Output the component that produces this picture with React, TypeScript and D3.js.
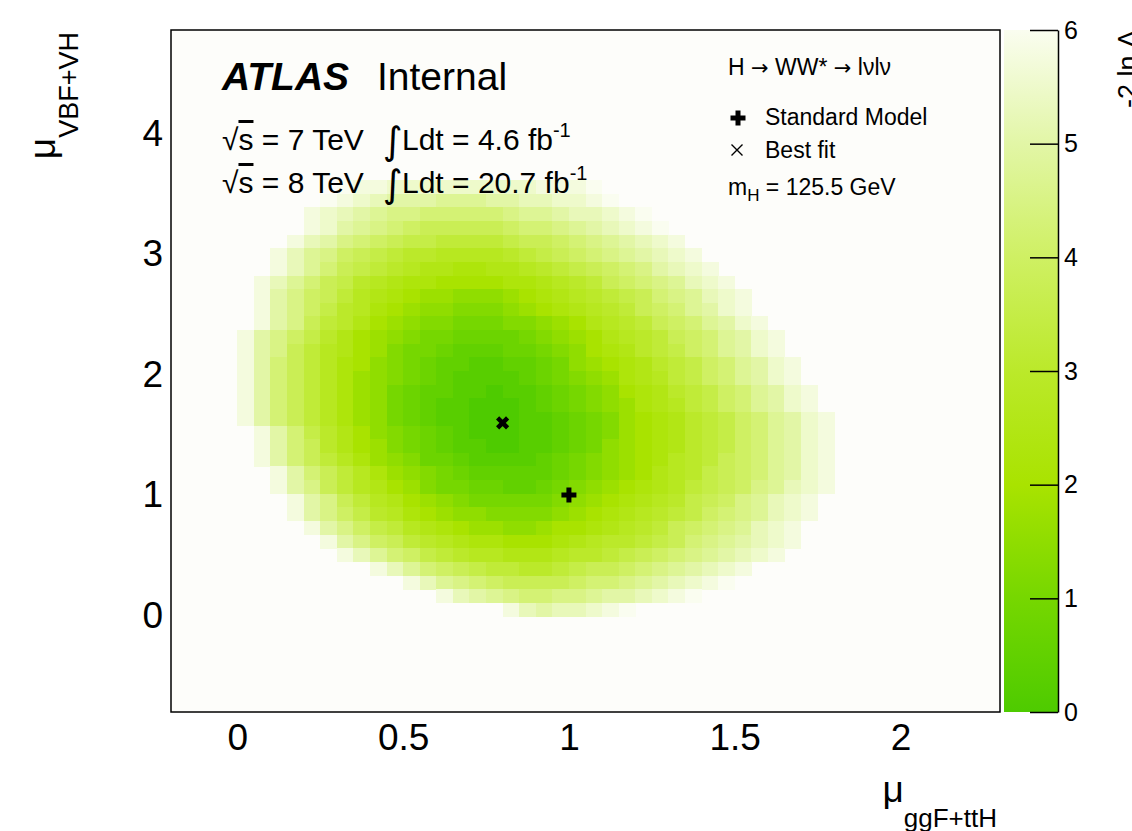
import * as d3 from "d3";
import { useEffect, useRef } from "react";

const width = 1132;
const height = 831;

// axis ranges of the scan (50 x 50 bins)
const muGgfRange = [-0.2, 2.3];
const muVbfRange = [-0.8, 4.86];
const nBins = 50;

const muGgfTicks = [0, 0.5, 1, 1.5, 2];
const muVbfTicks = [0, 1, 2, 3, 4];
const lambdaTicks = [0, 1, 2, 3, 4, 5, 6];

// -2 ln Lambda, one char per bin, step 0.25 (0 -> 0, O -> 6)
// rows are counted from the top of the frame, empty bins (> 6) are left out
const levelCodes = "0123456789ABCDEFGHIJKLMNO";
const scanRows = [
  11, 12, 13, 14, 15, 16, 17, 18, 19, 20, 21, 22, 23, 24, 25, 26,
  27, 28, 29, 30, 31, 32, 33, 34, 35, 36, 37, 38, 39, 40, 41, 42,
];
const scanFirstCol = [
  10, 9, 8, 8, 7, 6, 6, 5, 5, 5, 5, 4, 4, 4, 4, 4,
  4, 4, 5, 5, 5, 6, 6, 7, 7, 8, 9, 10, 12, 14, 16, 20,
];
const scanCodes = [
  "ONNMMMMMMMMMNNNO",
  "ONMLKKKJJJKKLLMMNO",
  "NMLKJIIHHHHHIJJKLLMNO",
  "NMKJIHGFFFFFGHHIJKLMNO",
  "NLKIHGFEEDDDDEFFGHIJKLMN",
  "NLJIGFEDCCBBBBCDEFGHIJKLMN",
  "NLJHFEDCBAA99AABCDEFGHIKLMN",
  "NLJHFECBA99888899ABCDFGHIJLMN",
  "NKIGFDBA9877666789ABCDEFHIJLMN",
  "NKIGECB987665556789ABCDFGHJKMN",
  "NKIFDCA8765544455678ABCDFGHJKMN",
  "NKIGECA876544333345678ABCDFGHJKMN",
  "NKIFDBA8754432223345689ACDEGHJKMN",
  "NKHFDB986543221122346789ACDEGHJKMN",
  "NKHFDB976543211112345679ABDEGHJKMN",
  "NKHFDB9764322110112345689ACDEGHJKMN",
  "NKHFDB9764321100012345679ABDEGHJKMN",
  "NKHFDB97643211000112345789ACDEGHJKMN",
  "NKHECA8654321000112345789ACDEGHJKMN",
  "NKHFCA8754321100112346789ACDEGHJKMN",
  "NKHFDB9765332111123456789BCDFGHJKMN",
  "NKHFDB97654322222345678ABCEFGHJKMN",
  "NKIFDBA8754433223456789ABDEFGIJLMN",
  "NKIFDBA87654444456789ABCEFGIJLMN",
  "NKIGECB9876655556789ABCDEGHIJLMN",
  "NKIGEDBA9877667889ABCDFGHIJLMN",
  "NKIGFDCBA998889ABCCDEFHIJKLMN",
  "NLJHGEDCBBAAABCCDEFGHIJKLMN",
  "NLJHGFEDDCCDEFFGHIJKLMN",
  "NLJIHGFFFFGHHIJKLMNO",
  "NLKJIHHIIJKKLMNO",
  "NLKLLMNO",
];

const bestFit = { x: 0.8, y: 1.6 };
const standardModel = { x: 1, y: 1 };

const paletteLevels = [0, 1, 2, 3, 4, 5, 6];
const paletteColors = ["#4ecb00", "#76d700", "#a9e300", "#bbe92a", "#cff063", "#e2f6a6", "#fafdf0"];

const font = "'Liberation Sans', Arial, Helvetica, sans-serif";

const App = () => {
  const ref = useRef<SVGSVGElement>(null);

  useEffect(() => {
    const svg = d3.select(ref.current);
    svg.selectAll("*").remove();

    const left = 171, right = 1000, top = 30, bottom = 712;
    const x = d3.scaleLinear().domain(muGgfRange).range([left, right]);
    const y = d3.scaleLinear().domain(muVbfRange).range([bottom, top]);
    const color = d3.scaleLinear<string>().domain(paletteLevels).range(paletteColors).clamp(true);
    const dx = (muGgfRange[1] - muGgfRange[0]) / nBins;
    const dy = (muVbfRange[1] - muVbfRange[0]) / nBins;

    svg.append("rect").attr("width", width).attr("height", height).attr("fill", "#ffffff");
    svg.append("rect")
      .attr("x", left).attr("y", top)
      .attr("width", right - left).attr("height", bottom - top)
      .attr("fill", "#fdfdfa");

    // bins
    const cells: { x0: number; y1: number; v: number }[] = [];
    scanCodes.forEach((codes, k) => {
      codes.split("").forEach((ch, i) => {
        const col = scanFirstCol[k] + i;
        cells.push({
          x0: muGgfRange[0] + col * dx,
          y1: muVbfRange[1] - scanRows[k] * dy,
          v: levelCodes.indexOf(ch) * 0.25,
        });
      });
    });
    svg.append("g")
      .attr("shape-rendering", "crispEdges")
      .selectAll("rect")
      .data(cells)
      .enter()
      .append("rect")
      .attr("x", (d) => x(d.x0))
      .attr("y", (d) => y(d.y1))
      .attr("width", (d) => x(d.x0 + dx) - x(d.x0) + 0.4)
      .attr("height", (d) => y(d.y1 - dy) - y(d.y1) + 0.4)
      .attr("fill", (d) => color(d.v));

    // frame
    svg.append("rect")
      .attr("x", left).attr("y", top)
      .attr("width", right - left).attr("height", bottom - top)
      .attr("fill", "none").attr("stroke", "#000").attr("stroke-width", 1.5);

    // axis labels (no ticks on the frame)
    const xAxis = d3.axisBottom(x).tickValues(muGgfTicks).tickSize(0).tickPadding(12)
      .tickFormat((d) => String(d));
    const gx = svg.append("g").attr("transform", `translate(0,${bottom})`).call(xAxis);
    gx.select(".domain").remove();
    gx.selectAll("text").attr("font-family", font).attr("font-size", 37).attr("fill", "#000");

    const yAxis = d3.axisLeft(y).tickValues(muVbfTicks).tickSize(0).tickPadding(8)
      .tickFormat((d) => String(d));
    const gy = svg.append("g").attr("transform", `translate(${left},0)`).call(yAxis);
    gy.select(".domain").remove();
    gy.selectAll("text").attr("font-family", font).attr("font-size", 37).attr("fill", "#000");

    // axis titles
    const xt = svg.append("text").attr("x", 997).attr("y", 802)
      .attr("text-anchor", "end").attr("font-family", font).attr("font-size", 37);
    xt.append("tspan").text("μ");
    xt.append("tspan").attr("dy", 25).attr("font-size", 26).text("ggF+ttH");

    const yt = svg.append("text").attr("transform", "translate(55,32) rotate(-90)")
      .attr("text-anchor", "end").attr("font-family", font).attr("font-size", 37);
    yt.append("tspan").text("μ");
    yt.append("tspan").attr("dy", 23).attr("font-size", 27).text("VBF+VH");

    // colour bar
    const z = d3.scaleLinear().domain([0, 6]).range([bottom, top]);
    const grad = svg.append("defs").append("linearGradient")
      .attr("id", "pal").attr("x1", 0).attr("y1", 1).attr("x2", 0).attr("y2", 0);
    paletteLevels.forEach((lv, i) => {
      grad.append("stop").attr("offset", lv / 6).attr("stop-color", paletteColors[i]);
    });
    svg.append("rect").attr("x", 1004).attr("y", top)
      .attr("width", 54).attr("height", bottom - top).attr("fill", "url(#pal)");
    const zAxis = d3.axisRight(z).tickValues(lambdaTicks).tickSizeInner(-28).tickSizeOuter(0)
      .tickPadding(6).tickFormat((d) => String(d));
    const gz = svg.append("g").attr("transform", "translate(1058,0)").call(zAxis);
    gz.select(".domain").attr("stroke-width", 1.5);
    gz.selectAll("line").attr("stroke-width", 1.5);
    gz.selectAll("text").attr("font-family", font).attr("font-size", 25).attr("fill", "#000");

    svg.append("text").attr("transform", "translate(1137,30) rotate(-90)")
      .attr("text-anchor", "end").attr("font-family", font).attr("font-size", 27)
      .text("-2 ln Λ");

    // markers
    const plus = d3.symbol(d3.symbolCross, 125)();
    svg.append("path").attr("d", plus)
      .attr("transform", `translate(${x(standardModel.x)},${y(standardModel.y)})`)
      .attr("fill", "#000");
    svg.append("path").attr("d", "M-5,-5L5,5M-5,5L5,-5")
      .attr("transform", `translate(${x(bestFit.x)},${y(bestFit.y)})`)
      .attr("stroke", "#000").attr("stroke-width", 4.5).attr("fill", "none");

    // ATLAS label
    svg.append("text").attr("x", 222).attr("y", 90).attr("font-family", font)
      .attr("font-size", 39).attr("font-weight", "bold").attr("font-style", "italic").text("ATLAS");
    svg.append("text").attr("x", 377).attr("y", 90).attr("font-family", font)
      .attr("font-size", 39).text("Internal");

    const lumiLines = [
      { energy: "7", lumi: "4.6", base: 150 },
      { energy: "8", lumi: "20.7", base: 193 },
    ];
    lumiLines.forEach((l) => {
      const t = svg.append("text").attr("x", 222).attr("y", l.base)
        .attr("font-family", font).attr("font-size", 30);
      t.append("tspan").text("√");
      t.append("tspan").attr("text-decoration", "overline").text("s");
      t.append("tspan").text(` = ${l.energy} TeV`);
      svg.append("text").attr("x", 383).attr("y", l.base + 4)
        .attr("font-family", "'DejaVu Sans', sans-serif").attr("font-size", 38).text("∫");
      const u = svg.append("text").attr("x", 402).attr("y", l.base)
        .attr("font-family", font).attr("font-size", 30);
      u.append("tspan").text(`Ldt = ${l.lumi} fb`);
      u.append("tspan").attr("dy", -13).attr("font-size", 20).text("-1");
    });

    // legend
    const leg = svg.append("g").attr("font-family", font).attr("font-size", 23);
    const decay = leg.append("text").attr("x", 728).attr("y", 75);
    decay.append("tspan").text("H ");
    decay.append("tspan").attr("font-family", "'DejaVu Sans', sans-serif").attr("font-size", 21).text("→");
    decay.append("tspan").text(" WW* ");
    decay.append("tspan").attr("font-family", "'DejaVu Sans', sans-serif").attr("font-size", 21).text("→");
    decay.append("tspan").text(" lνlν");
    leg.append("path").attr("d", plus).attr("transform", "translate(738,118)").attr("fill", "#000");
    leg.append("text").attr("x", 765).attr("y", 125).text("Standard Model");
    leg.append("path").attr("d", "M-5.5,-5.5L5.5,5.5M-5.5,5.5L5.5,-5.5")
      .attr("transform", "translate(737,150)").attr("stroke", "#000").attr("stroke-width", 1.4);
    leg.append("text").attr("x", 765).attr("y", 158).text("Best fit");
    const mh = leg.append("text").attr("x", 728).attr("y", 195);
    mh.append("tspan").text("m");
    mh.append("tspan").attr("dy", 6).attr("font-size", 17).text("H");
    mh.append("tspan").attr("dy", -6).text(" = 125.5 GeV");
  }, []);

  return (
    <svg
      ref={ref}
      width={width}
      height={height}
      style={{ position: "absolute", left: 0, top: 0 }}
    />
  );
};

export default App;
